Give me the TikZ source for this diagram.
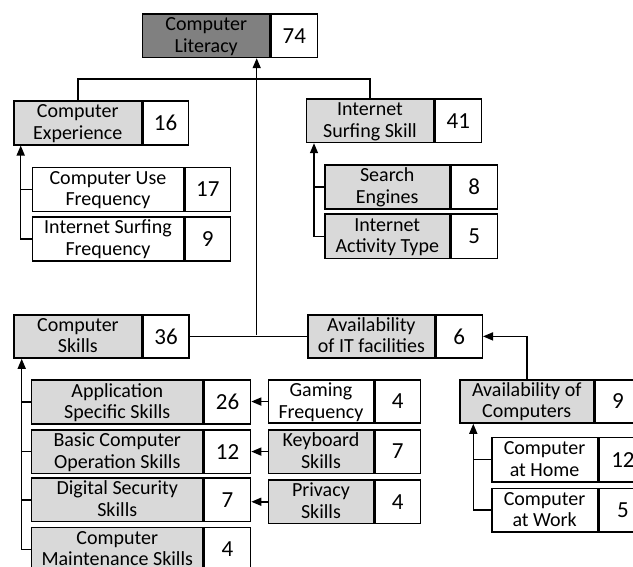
\documentclass[tikz,border=0pt]{standalone}
\usepackage{fontspec}
\setmainfont{Carlito}
\usetikzlibrary{arrows.meta}

\begin{document}
\begin{tikzpicture}
[x=1pt,y=-1pt,
  boxdecorate/.style={shape=rectangle,draw,line width=1.5pt,inner sep=0pt,
    anchor=north west,align=center,font=\fontsize{20}{21.5}\selectfont},
  labeldecorate/.style={boxdecorate,text height=38pt,text depth=5pt},
  darkbox/.style={labeldecorate,fill=black!50},
  greybox/.style={labeldecorate,fill=black!15},
  whitebox/.style={labeldecorate,fill=white},
  numdecorate/.style={boxdecorate,fill=white,font=\fontsize{23}{26}\selectfont},
  linedecorate/.style={-,line width=1.5pt},
  arrowdecorate/.style={-{Triangle[length=10pt,width=8pt]},line width=1.5pt}]
\useasboundingbox (0,0) rectangle (633,566);
\clip (0,0) rectangle (633,566);
%% boxes: label part and number part
\foreach \nodename/\x/\y/\w/\nw/\h/\kind/\txt/\num in {
  lit/141.7/13.3/127.6/45.7/43.4/darkbox/{Computer\\Literacy}/74,
  exp/13.3/100/127.4/45.3/44/greybox/{Computer\\Experience}/16,
  cuf/31.7/166.7/151/45.6/44/whitebox/{Computer Use\\Frequency}/17,
  isf/31.7/216/151/45.6/44/whitebox/{Internet Surfing\\Frequency}/9,
  iss/305.7/98.3/127/46.6/43.4/greybox/{Internet\\Surfing Skill}/41,
  se/324/164/125/46/44/greybox/{Search\\Engines}/8,
  iat/324/213.3/125/46/44.4/greybox/{Internet\\Activity Type}/5,
  cs/13.3/314/127.7/45.7/43.3/greybox/{Computer\\Skills}/36,
  ait/307.3/314/126.7/46/43.3/greybox/{Availability\\of IT facilities}/6,
  ass/30.7/379.3/171.6/46/44/greybox/{Application\\Specific Skills}/26,
  bco/30.7/429/171.6/46/43.7/greybox/{Basic Computer\\Operation Skills}/12,
  dss/30.7/477.3/171.6/46/43.4/greybox/{Digital Security\\Skills}/7,
  cms/30.7/526.7/171.6/46/44/greybox/{Computer\\Maintenance Skills}/4,
  gf/267.7/379.3/105/45.6/43/whitebox/{Gaming\\Frequency}/4,
  ks/267.7/429/105/45.6/43.7/greybox/{Keyboard\\Skills}/7,
  ps/267.7/479.3/105/45.6/43.4/greybox/{Privacy\\Skills}/4,
  ac/459.3/379/133.4/46/43.3/greybox/{Availability of\\Computers}/9,
  ch/491/436.7/105.7/48/44.3/whitebox/{Computer\\at Home}/12,
  cw/491/487.7/105.7/48/43.3/whitebox/{Computer\\at Work}/5} {
  \node[\kind,minimum width=\w pt,minimum height=\h pt] (\nodename) at (\x,\y) {\txt};
  \node[numdecorate,minimum width=\nw pt,minimum height=\h pt] (\nodename n)
    at (\nodename.north east) {\num};
}
%% links to the top box
\coordinate (topbar) at (256.7,79);
\coordinate (hub) at (256.7,335);
\draw[linedecorate] (exp.north) -- (exp.north |- topbar) -| (iss.north);
\draw[linedecorate] (csn.east) -- (ait.west);
\draw[arrowdecorate] (hub) -- (hub |- lit.south);
\draw[arrowdecorate] (ac.north) |- (aitn.east);
%% group spines
\foreach \parent/\shift/\last in {exp/7.4/isf, iss/8.3/iat, cs/8.4/cms, ac/14/cw} {
  \coordinate (\parent-in) at ([xshift=\shift pt]\parent.south west);
  \draw[arrowdecorate] (\last.west) -| (\parent-in);
}
\foreach \parent/\child in {exp/cuf, iss/se, cs/ass, cs/bco, cs/dss, ac/ch} {
  \draw[linedecorate] (\child.west) -- (\child.west -| \parent-in);
}
%% side arrows
\foreach \src/\dst in {gf/assn, ks/bcon, ps/dssn} {
  \draw[arrowdecorate] (\src.west) -- (\src.west -| \dst.east);
}
\end{tikzpicture}
\end{document}
